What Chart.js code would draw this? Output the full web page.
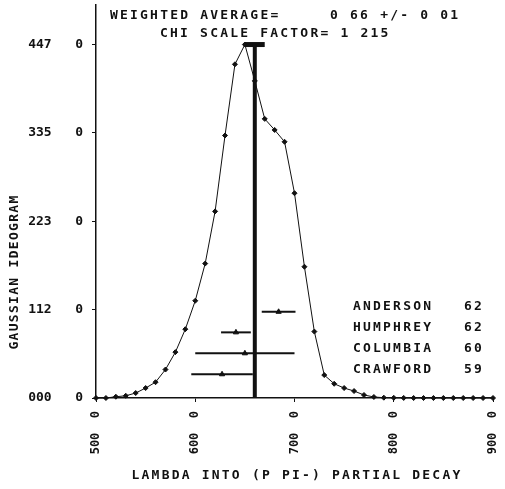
<!DOCTYPE html>
<html>
<head>
<meta charset="utf-8">
<script src="https://cdn.jsdelivr.net/npm/chart.js@4/dist/chart.umd.min.js"></script>
<style>
  html, body { margin: 0; padding: 0; background: #fff; }
  #wrap { width: 505px; height: 489px; }
</style>
</head>
<body>
<div id="wrap"><canvas id="ideogramChart" width="505" height="489"></canvas></div>
<script>
// ideogram curve
const lambdaX = [500, 510, 520, 530, 540, 550, 560, 570, 580, 590,
                 600, 610, 620, 630, 640, 650, 660, 670, 680, 690,
                 700, 710, 720, 730, 740, 750, 760, 770, 780, 790,
                 800, 810, 820, 830, 840, 850, 860, 870, 880, 890, 900];
const ideogram = [0, 0, 1.6, 2.8, 6.3, 12.6, 20, 36, 58, 87,
                  123, 170, 236, 332, 422, 447, 401, 353, 339, 324,
                  259, 166, 84, 29, 18, 12.6, 8.8, 3.8, 1.3, 0.4,
                  0.2, 0.1, 0, 0, 0, 0, 0, 0, 0, 0, 0];

// measurements
const expNames = ['ANDERSON', 'HUMPHREY', 'COLUMBIA', 'CRAWFORD'];
const expYears = ['62', '62', '60', '59'];
const expValues = [684, 641, 650, 627];
const expErrors = [17, 15, 50, 31];
const expHeights = [109, 83, 56.5, 30];

// weighted average
const avgValue = 660;
const avgError = 10;
const avgTop = 447;

// ticks
const xTickValues = [500, 600, 700, 800, 900];
const xTickLabels = ['500  0', '600  0', '700  0', '800  0', '900  0'];
const yTickValues = [0, 111.75, 223.5, 335.25, 447];
const yTickLabels = ['000   0', '112   0', '223   0', '335   0', '447   0'];

const INK = '#111';
const plotFont = '"DejaVu Sans Mono", monospace';

const datasets = [];

datasets.push({
    label: 'ideogram',
    data: lambdaX.map((x, i) => ({ x: x, y: ideogram[i] })),
    borderColor: INK,
    borderWidth: 1,
    pointStyle: 'rectRot',
    pointRadius: 2.5,
    pointBackgroundColor: INK,
    pointBorderColor: INK,
    pointBorderWidth: 1,
    tension: 0,
    clip: 6
});

expValues.forEach((v, i) => {
    datasets.push({
        label: expNames[i],
        data: [
            { x: v - expErrors[i], y: expHeights[i] },
            { x: v, y: expHeights[i] },
            { x: v + expErrors[i], y: expHeights[i] }
        ],
        borderColor: INK,
        borderWidth: 2,
        pointStyle: 'triangle',
        pointRadius: [0, 3, 0],
        pointBackgroundColor: INK,
        pointBorderColor: INK,
        pointBorderWidth: 1
    });
});

datasets.push({
    label: 'average',
    data: [{ x: avgValue, y: 0 }, { x: avgValue, y: avgTop }],
    borderColor: INK,
    borderWidth: 4,
    pointRadius: 0
});
datasets.push({
    label: 'average error',
    data: [{ x: avgValue - avgError, y: avgTop }, { x: avgValue + avgError, y: avgTop }],
    borderColor: INK,
    borderWidth: 5,
    pointRadius: 0,
    clip: 6
});

const textPlugin = {
    id: 'plotText',
    afterDraw(chart) {
        const ctx = chart.ctx;
        const yScale = chart.scales.y;
        ctx.save();
        ctx.fillStyle = INK;
        ctx.font = 'bold 13px ' + plotFont;
        ctx.letterSpacing = '2.2px';
        ctx.textBaseline = 'middle';
        ctx.textAlign = 'left';

        ctx.fillText('WEIGHTED AVERAGE=', 110, 16);
        ctx.fillText('0 66 +/- 0 01', 330, 16);
        ctx.fillText('CHI SCALE FACTOR= 1 215', 160, 34);

        expNames.forEach((name, i) => {
            const py = yScale.getPixelForValue(expHeights[i]) - 5;
            ctx.fillText(name, 353, py);
            ctx.fillText(expYears[i], 464, py);
        });

        // axis titles
        ctx.textAlign = 'center';
        ctx.fillText('LAMBDA INTO (P PI-) PARTIAL DECAY', 297, 476);
        ctx.letterSpacing = '1.3px';
        ctx.translate(15, 272);
        ctx.rotate(-Math.PI / 2);
        ctx.fillText('GAUSSIAN IDEOGRAM', 0, 0);
        ctx.restore();
    }
};

new Chart(document.getElementById('ideogramChart'), {
    type: 'line',
    data: { datasets: datasets },
    options: {
        responsive: false,
        animation: false,
        layout: { padding: { top: 1, right: 12, left: 0, bottom: 0 } },
        plugins: {
            legend: { display: false },
            tooltip: { enabled: false }
        },
        scales: {
            x: {
                type: 'linear',
                min: 500,
                max: 900,
                afterBuildTicks: scale => {
                    scale.ticks = xTickValues.map(v => ({ value: v }));
                },
                afterFit: scale => {
                    scale.height = 91;
                    scale.paddingLeft = 0;
                    scale.paddingRight = 0;
                },
                ticks: {
                    minRotation: 90,
                    maxRotation: 90,
                    padding: 9,
                    color: INK,
                    font: { family: plotFont, size: 12, weight: 'bold' },
                    callback: (v, i) => xTickLabels[i]
                },
                grid: {
                    drawOnChartArea: false,
                    tickLength: 4,
                    color: INK
                },
                border: { color: INK, width: 1.5 }
            },
            y: {
                type: 'linear',
                min: 0,
                max: 497,
                afterBuildTicks: scale => {
                    scale.ticks = yTickValues.map(v => ({ value: v }));
                },
                afterFit: scale => {
                    scale.width = 96;
                    scale.paddingTop = 0;
                    scale.paddingBottom = 0;
                },
                ticks: {
                    padding: 9,
                    color: INK,
                    font: { family: plotFont, size: 13, weight: 'bold' },
                    callback: (v, i) => yTickLabels[i]
                },
                grid: {
                    drawOnChartArea: false,
                    tickLength: 4,
                    color: INK
                },
                border: { color: INK, width: 1.5 }
            }
        }
    },
    plugins: [textPlugin]
});
</script>
</body>
</html>
